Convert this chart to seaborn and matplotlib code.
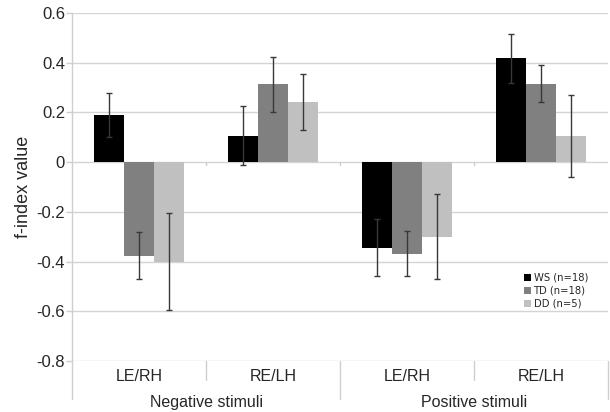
import matplotlib
matplotlib.use("Agg")
import matplotlib.pyplot as plt
import seaborn as sns
import pandas as pd
import numpy as np

# ---- data ----
conditions = ["Neg LE/RH", "Neg RE/LH", "Pos LE/RH", "Pos RE/LH"]
cond_labels = ["LE/RH", "RE/LH", "LE/RH", "RE/LH"]
stimulus_groups = ["Negative stimuli", "Positive stimuli"]
groups = ["WS (n=18)", "TD (n=18)", "DD (n=5)"]
ws_vals = [0.19, 0.107, -0.345, 0.418]
td_vals = [-0.377, 0.313, -0.368, 0.316]
dd_vals = [-0.400, 0.243, -0.300, 0.105]
ws_err = [0.087, 0.117, 0.115, 0.098]
td_err = [0.095, 0.112, 0.090, 0.075]
dd_err = [0.195, 0.112, 0.170, 0.165]
yticks = [0.6, 0.4, 0.2, 0, -0.2, -0.4, -0.6, -0.8]
ytick_labels = ["0.6", "0.4", "0.2", "0", "-0.2", "-0.4", "-0.6", "-0.8"]

colors = ["#000000", "#808080", "#c0c0c0"]

rows = []
for g, vals, errs in zip(groups, [ws_vals, td_vals, dd_vals], [ws_err, td_err, dd_err]):
    for c, v, e in zip(conditions, vals, errs):
        rows.append({"cond": c, "group": g, "value": v, "err": e})
df = pd.DataFrame(rows)

sns.set_theme(style="white")
plt.rcParams["font.family"] = ["Liberation Sans", "DejaVu Sans"]

fig = plt.figure(figsize=(6.10, 4.12), dpi=100)
ax = fig.add_axes([72 / 610, 51 / 412, 536 / 610, 348 / 412])

sns.barplot(data=df, x="cond", y="value", hue="group", order=conditions,
            hue_order=groups, palette=colors, errorbar=None, width=0.67,
            saturation=1, ax=ax, linewidth=0, legend=True)

# error bars from bar positions
for patch_container, g in zip(ax.containers, groups):
    sub = df[df["group"] == g].set_index("cond").loc[conditions]
    xs = [p.get_x() + p.get_width() / 2 for p in patch_container]
    ax.errorbar(xs, sub["value"].values, yerr=sub["err"].values, fmt="none",
                ecolor="#383838", elinewidth=1.0, capsize=2.5, capthick=1.0, zorder=5)

ax.set_ylim(-0.8, 0.6)
ax.set_xlim(-0.5, 3.5)
ax.set_yticks(yticks)
ax.set_yticklabels(ytick_labels, fontsize=12)
ax.yaxis.grid(True, color="#d4d4d4", linewidth=1.0)
ax.set_axisbelow(True)
ax.tick_params(axis="y", length=4, width=1.0, color="#cfcfcf", pad=1, left=True)
ax.tick_params(axis="x", length=0, pad=6)
ax.set_xticks(range(len(conditions)))
ax.set_xticklabels(cond_labels, fontsize=11.5)
ax.set_xlabel("")
ax.set_ylabel("f-index value", fontsize=13, labelpad=3)

for s in ["top", "right", "bottom"]:
    ax.spines[s].set_visible(False)
ax.spines["left"].set_color("#cfcfcf")
ax.spines["left"].set_linewidth(1.0)
ax.spines["left"].set_bounds(-0.8, 0.6)

# category separators below the axis
sep_col = "#cfcfcf"
for xa, ylow in [(0.0, -0.11), (0.25, -0.055), (0.5, -0.11), (0.75, -0.055), (1.0, -0.11)]:
    ax.plot([xa, xa], [0, ylow], transform=ax.transAxes, color=sep_col,
            linewidth=1.0, clip_on=False)
# small tick marks at zero line
for xb in [0.5, 1.5, 2.5]:
    ax.plot([xb, xb], [0.0, -0.01], color="#cfcfcf", linewidth=1.0, zorder=1)

# group labels
for i, lab in enumerate(stimulus_groups):
    ax.text(0.25 + 0.5 * i, -0.118, lab, transform=ax.transAxes, ha="center",
            va="center", fontsize=11.5)

leg = ax.legend(loc="upper left", bbox_to_anchor=(0.835, 0.265), frameon=False,
                fontsize=7.2, handlelength=0.7, handleheight=0.7,
                handletextpad=0.3, labelspacing=0.3, borderaxespad=0)
for t in leg.get_texts():
    t.set_family(["DejaVu Sans"])

fig.savefig("out.png", dpi=100)
